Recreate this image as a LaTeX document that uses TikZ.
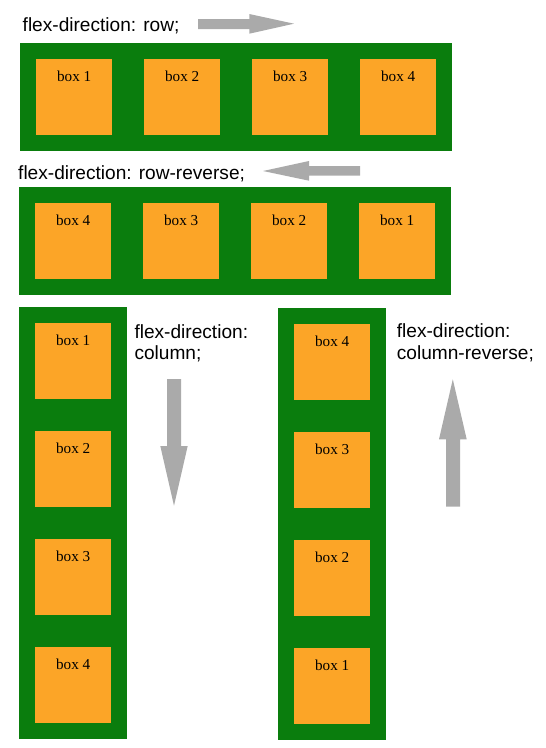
\documentclass[tikz,border=0pt]{standalone}
\usepackage{fontspec}
\newfontfamily\capfont{Liberation Sans}
\newfontfamily\boxfont{Liberation Serif}
\definecolor{flexgreen}{HTML}{0A7D0D}
\definecolor{boxorange}{HTML}{FCA527}
\definecolor{arrowgray}{HTML}{AAAAAA}
\tikzset{
  container/.style={fill=flexgreen, draw=none, inner sep=0, anchor=north west},
  flexbox/.style={fill=boxorange, draw=none, inner sep=0, anchor=north west,
    minimum width=76pt, minimum height=76pt},
  boxlabel/.style={font=\boxfont\fontsize{15.2}{18}\selectfont, anchor=base,
    yshift=-22pt, inner sep=0, text=black},
  caption/.style={font=\capfont\fontsize{19.1}{21.5}\selectfont, anchor=base west,
    inner sep=0, text=black},
  grayarrow/.style={fill=arrowgray, draw=none}
}
\begin{document}
\begin{tikzpicture}[x=1pt, y=-1pt]
\useasboundingbox (0,0) rectangle (546,748);

% ---- row ----
\node[caption] (t1) at (22.5,31.7) {flex-direction: row;};
\fill[grayarrow] (198,19) -- (249.3,19) -- (249.3,14) -- (294,23.7)
  -- (249.3,33.7) -- (249.3,29) -- (198,29) -- cycle;
\node[container, minimum width=432pt, minimum height=108pt] (c1) at (20,43) {};
\node[flexbox, label={[boxlabel]north:box 1}] (a1) at (36,59) {};
\node[flexbox, label={[boxlabel]north:box 2}] (a2) at (144,59) {};
\node[flexbox, label={[boxlabel]north:box 3}] (a3) at (252,59) {};
\node[flexbox, label={[boxlabel]north:box 4}] (a4) at (360,59) {};

% ---- row-reverse ----
\node[caption] (t2) at (18,179.3) {flex-direction: row-reverse;};
\fill[grayarrow] (360,166) -- (309,166) -- (309,161) -- (263,171)
  -- (309,180.7) -- (309,175.7) -- (360,175.7) -- cycle;
\node[container, minimum width=432pt, minimum height=108pt] (c2) at (19,187) {};
\node[flexbox, label={[boxlabel]north:box 4}] (b4) at (35,203) {};
\node[flexbox, label={[boxlabel]north:box 3}] (b3) at (143,203) {};
\node[flexbox, label={[boxlabel]north:box 2}] (b2) at (251,203) {};
\node[flexbox, label={[boxlabel]north:box 1}] (b1) at (359,203) {};

% ---- column ----
\node[container, minimum width=108pt, minimum height=432pt] (c3) at (19,307) {};
\node[flexbox, label={[boxlabel]north:box 1}] (d1) at (35,323) {};
\node[flexbox, label={[boxlabel]north:box 2}] (d2) at (35,431) {};
\node[flexbox, label={[boxlabel]north:box 3}] (d3) at (35,539) {};
\node[flexbox, label={[boxlabel]north:box 4}] (d4) at (35,647) {};
\node[caption] (t3a) at (134.3,338) {flex-direction:};
\node[caption] (t3b) at (134.3,359.5) {column;};
\fill[grayarrow] (167,379) -- (181,379) -- (181,446) -- (187.7,446)
  -- (174,505.7) -- (160.3,446) -- (167,446) -- cycle;

% ---- column-reverse ----
\node[container, minimum width=108pt, minimum height=432pt] (c4) at (278,308) {};
\node[flexbox, label={[boxlabel]north:box 4}] (e4) at (294,324) {};
\node[flexbox, label={[boxlabel]north:box 3}] (e3) at (294,432) {};
\node[flexbox, label={[boxlabel]north:box 2}] (e2) at (294,540) {};
\node[flexbox, label={[boxlabel]north:box 1}] (e1) at (294,648) {};
\node[caption] (t4a) at (396.7,337.7) {flex-direction:};
\node[caption] (t4b) at (396.7,359.2) {column-reverse;};
\fill[grayarrow] (446,506.7) -- (460,506.7) -- (460,439.3) -- (466.7,439.3)
  -- (452.8,379.3) -- (439,439.3) -- (446,439.3) -- cycle;
\end{tikzpicture}
\end{document}
